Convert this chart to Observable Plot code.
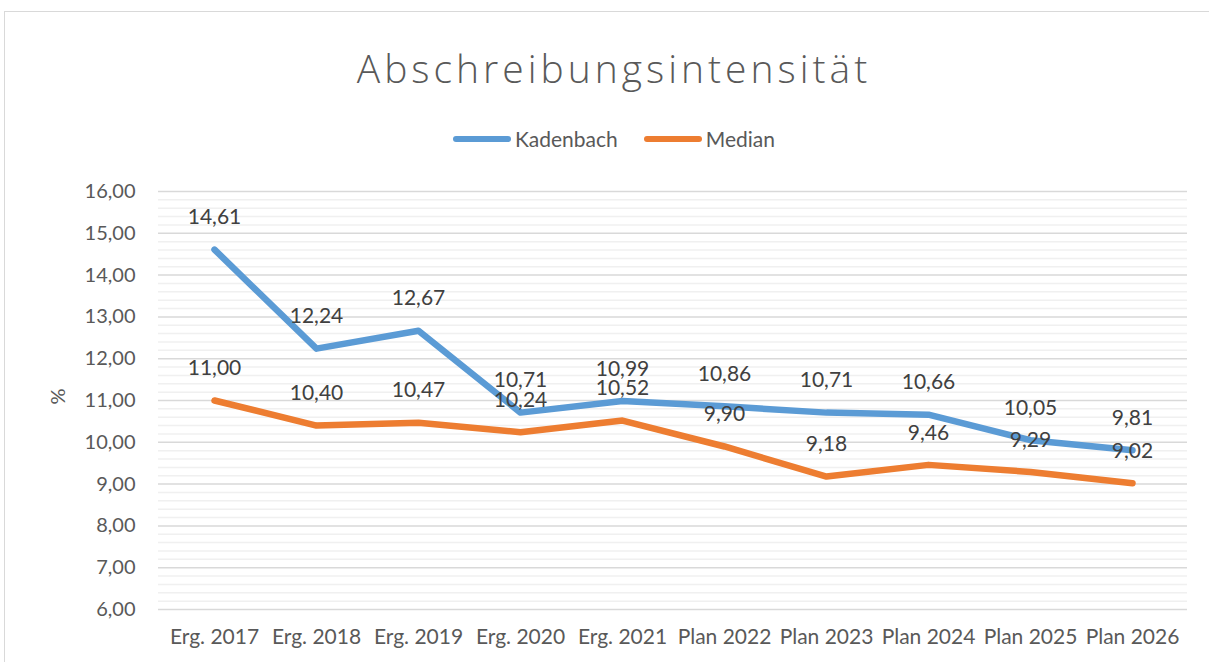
<!DOCTYPE html>
<html>
<head>
<meta charset="utf-8">
<script src="https://cdn.jsdelivr.net/npm/d3@7"></script>
<script src="https://cdn.jsdelivr.net/npm/@observablehq/plot@0.6"></script>
<style>
  html, body { margin: 0; padding: 0; background: #fff; overflow: hidden; }
  body { width: 1209px; height: 662px; position: relative; font-family: Lato, "Open Sans", sans-serif; }
  #frame { position: absolute; left: 4px; top: 11px; width: 1260px; height: 720px; border: 1px solid #d9d9d9; box-sizing: border-box; }
  #title { position: absolute; left: 0; width: 1228px; top: 42px; text-align: center; font-family: "Open Sans", Lato, sans-serif; font-size: 39px; font-weight: 300; letter-spacing: 4px; color: #595959; line-height: 52px; }
  #legend { position: absolute; left: 0; width: 1228px; top: 126px; display: flex; justify-content: center; align-items: center; gap: 26px; font-size: 21px; color: #595959; }
  .item { display: flex; align-items: center; gap: 4px; }
  .sw { width: 58px; height: 6px; border-radius: 3px; }
  #chart { position: absolute; left: 0; top: 160px; }
</style>
</head>
<body>
<div id="frame"></div>
<div id="title">Abschreibungsintensität</div>
<div id="legend"></div>
<div id="chart"></div>
<script>
const categories = ["Erg. 2017","Erg. 2018","Erg. 2019","Erg. 2020","Erg. 2021","Plan 2022","Plan 2023","Plan 2024","Plan 2025","Plan 2026"];
const kadenbach = [14.61, 12.24, 12.67, 10.71, 10.99, 10.86, 10.71, 10.66, 10.05, 9.81];
const median = [11.00, 10.40, 10.47, 10.24, 10.52, 9.90, 9.18, 9.46, 9.29, 9.02];
const seriesNames = ["Kadenbach", "Median"];
const seriesColors = ["#5B9BD5", "#ED7D31"];
const yTicks = [6, 7, 8, 9, 10, 11, 12, 13, 14, 15, 16];

const fmt = d => d.toFixed(2).replace(".", ",");
const rows = [];
[kadenbach, median].forEach((vals, s) => vals.forEach((v, i) => rows.push({cat: categories[i], value: v, series: seriesNames[s]})));
const minor = d3.range(60, 161, 2).map(d => d / 10).filter(d => !yTicks.includes(d));

const legend = document.getElementById("legend");
seriesNames.forEach((n, i) => {
  const it = document.createElement("div"); it.className = "item";
  const sw = document.createElement("div"); sw.className = "sw"; sw.style.background = seriesColors[i];
  const t = document.createElement("span"); t.textContent = n;
  it.append(sw, t); legend.append(it);
});

const chart = Plot.plot({
  width: 1209,
  height: 502,
  marginTop: 31,
  marginBottom: 53,
  marginLeft: 158,
  marginRight: 22,
  style: {fontFamily: "Lato, 'Open Sans', sans-serif", fontSize: "20px", color: "#595959", background: "transparent"},
  x: {type: "point", domain: categories, padding: 0.5, label: null, tickSize: 0, tickPadding: 20},
  y: {domain: [6, 16], ticks: yTicks, tickFormat: fmt, tickSize: 0, tickPadding: 23, label: null},
  color: {domain: seriesNames, range: seriesColors},
  marks: [
    Plot.ruleY(minor, {stroke: "#f0f0f0", strokeWidth: 1.5}),
    Plot.ruleY(yTicks, {stroke: "#d9d9d9", strokeWidth: 1.5}),
    Plot.axisY({ticks: yTicks, tickFormat: fmt, tickSize: 0, tickPadding: 23, label: null, fill: "#595959"}),
    Plot.axisX({tickSize: 0, tickPadding: 20, label: null, fill: "#595959", fontSize: 21}),
    Plot.text(["%"], {frameAnchor: "left", dx: -100, dy: 4, rotate: -90, fill: "#595959", fontSize: 20}),
    Plot.line(rows, {x: "cat", y: "value", stroke: "series", strokeWidth: 6.5, strokeLinecap: "round", strokeLinejoin: "round"}),
    Plot.text(rows, {x: "cat", y: "value", text: d => fmt(d.value), dy: -32, fill: "#404040", fontSize: 21})
  ]
});
document.getElementById("chart").append(chart);
</script>
</body>
</html>
